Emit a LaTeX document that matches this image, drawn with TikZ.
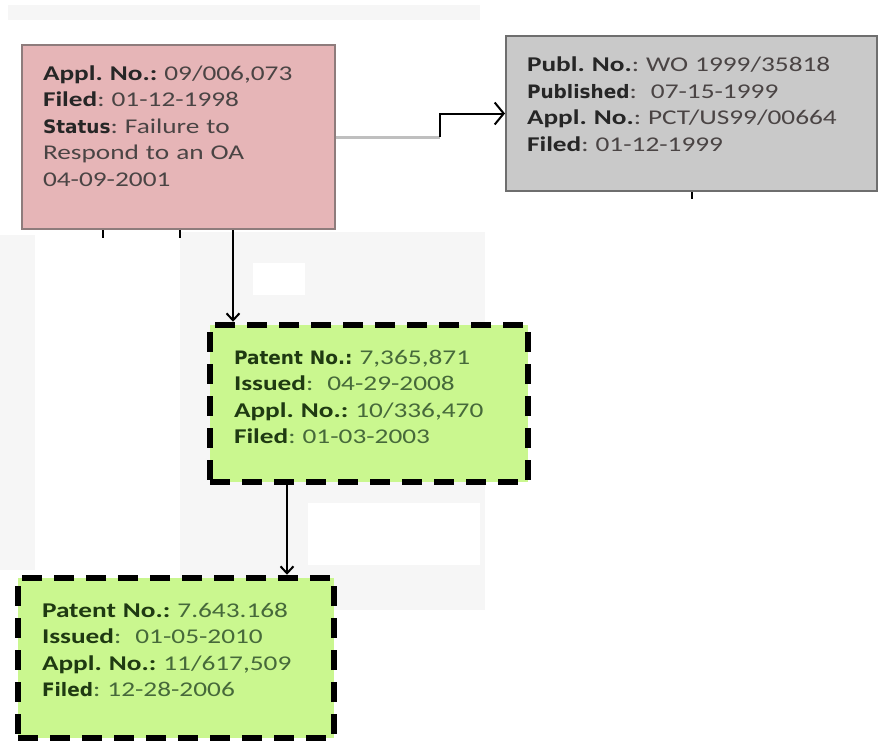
\documentclass[tikz,border=0pt]{standalone}
\usepackage{fontspec}
\setmainfont{Carlito}[FakeStretch=1.3, WordSpace=0.85]
\newfontfamily\lblfont{DejaVu Sans}[WordSpace=0.8]
\usetikzlibrary{arrows.meta}
\frenchspacing

\definecolor{appred}{HTML}{E6B5B7}
\definecolor{appedge}{HTML}{8E7C7C}
\definecolor{pubgray}{HTML}{C9C9C9}
\definecolor{pubedge}{HTML}{6E6E6E}
\definecolor{patgreen}{HTML}{CAF78F}
\definecolor{hdgreen}{HTML}{1F3A12}
\definecolor{valgreen}{HTML}{46693A}
\definecolor{valgray}{HTML}{4A4444}
\definecolor{faint}{HTML}{F6F6F6}

\newcommand{\hd}[1]{{\bfseries\color{hdcol}#1}}
\newcommand{\lbl}[1]{{\lblfont\bfseries\fontsize{18.5}{20}\selectfont\color{hdcol}#1}}
\newcommand{\padbox}[1]{\rule[-#1]{0pt}{0pt}}

\begin{document}
\begin{tikzpicture}[x=1pt, y=-1pt,
  every node/.style={font=\fontsize{21}{26.5}\selectfont},
  infobox/.style={align=left, inner xsep=21pt, inner ysep=0pt, line width=2pt},
  appbox/.style={infobox, draw=appedge, fill=appred, text=valgray,
    execute at begin node={\colorlet{hdcol}{black!85}}},
  pubbox/.style={infobox, draw=pubedge, fill=pubgray, text=valgray,
    execute at begin node={\colorlet{hdcol}{black!85}}},
  patbox/.style={infobox, inner xsep=24pt, draw=black, fill=patgreen, text=valgreen,
    line width=6.5pt, dash pattern=on 20pt off 12pt,
    execute at begin node={\colorlet{hdcol}{hdgreen}}},
  link/.style={line width=2pt, -{Straight Barb[length=7pt,width=13pt]}}
]

\useasboundingbox (0,0) rectangle (879,742);

% faint screenshot background
\fill [faint] (8,5) rectangle (480,20);
\fill [faint] (180,232) rectangle (485,610);
\fill [faint] (0,235) rectangle (35,570);
\fill [white] (253,263) rectangle (305,295);
\fill [white] (308,503) rectangle (480,565);

% boxes
\node [appbox, minimum width=313pt, minimum height=184pt, text width=271pt] (app) at (178.5,137) {%
\hd{Appl. No.:} 09/006,073\\
\hd{Filed}: 01-12-1998\\
\lbl{Status}: Failure to\\
Respond to an OA\\
04-09-2001\padbox{22pt}};

\node [pubbox, minimum width=371pt, minimum height=155pt, text width=329pt] (pub) at (691.5,113.5) {%
\hd{Publ. No.}: WO 1999/35818\\
\lbl{Published}:~ 07-15-1999\\
\hd{Appl. No.}: PCT/US99/00664\\
\hd{Filed}: 01-12-1999\padbox{19pt}};

\node [patbox, minimum width=318pt, minimum height=157pt, text width=270pt] (pat1) at (369,403.5) {%
\lbl{Patent No.:} 7,365,871\\
\hd{Issued}:~ 04-29-2008\\
\hd{Appl. No.:} 10/336,470\\
\hd{Filed}: 01-03-2003\padbox{13pt}};

\node [patbox, minimum width=316pt, minimum height=160pt, text width=268pt] (pat2) at (176,658) {%
\hd{Patent No.:} 7.643.168\\
\hd{Issued}:~ 01-05-2010\\
\hd{Appl. No.:} 11/617,509\\
\lbl{Filed}: 12-28-2006\padbox{16pt}};

% connectors
\coordinate (elbow) at (440,137);
\draw [line width=3pt, black!25] (app.east) -- (elbow);
\draw [line width=2pt, -{Straight Barb[length=9pt,width=22pt]}] (elbow) |- (pub.west);
\draw [link] ([xshift=54.5pt]app.south) -- ([xshift=54.5pt]app.south |- pat1.north);
\draw [link] ([xshift=-82pt]pat1.south) -- ([xshift=-82pt]pat1.south |- pat2.north);

% small ticks
\draw [line width=1.5pt] ([xshift=-75.5pt]app.south) -- ++(0,8);
\draw [line width=1.5pt] ([xshift=1.5pt]app.south) -- ++(0,8);
\draw [line width=1.5pt] ([xshift=0.5pt]pub.south) -- ++(0,7);

\end{tikzpicture}
\end{document}
